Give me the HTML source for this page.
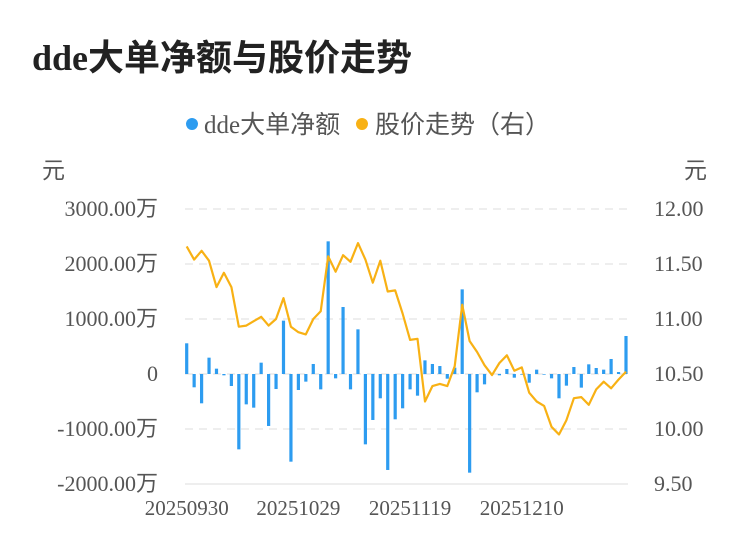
<!DOCTYPE html>
<html><head><meta charset="utf-8"><style>
body{margin:0;background:#fff;}
svg{display:block;font-family:"Liberation Serif","Noto Sans CJK SC",serif;}
</style></head><body>
<svg id="chart" width="750" height="558" viewBox="0 0 750 558" xmlns="http://www.w3.org/2000/svg">
<text x="32" y="70" font-size="36" font-weight="bold" fill="#222">dde大单净额与股价走势</text>
<g>
<g><circle cx="192" cy="124" r="6" fill="#2d9cf0"/><text x="204" y="133" font-size="25" fill="#555">dde大单净额</text></g>
<g><circle cx="362" cy="124" r="6" fill="#f8b114"/><text x="375" y="133" font-size="25" fill="#555">股价走势（右）</text></g>
</g>
<text x="42" y="178" font-size="23" fill="#555">元</text>
<text x="684" y="178" font-size="23" fill="#555">元</text>
<g id="grid"></g><g id="bars"></g><g id="line"></g><g id="axes"></g>
</svg>
<script>
const dates=["20250930","20251009","20251010","20251013","20251014","20251015","20251016","20251017","20251020","20251021","20251022","20251023","20251024","20251027","20251028","20251029","20251030","20251031","20251103","20251104","20251105","20251106","20251107","20251110","20251111","20251112","20251113","20251114","20251117","20251118","20251119","20251120","20251121","20251124","20251125","20251126","20251127","20251128","20251201","20251202","20251203","20251204","20251205","20251208","20251209","20251210","20251211","20251212","20251215","20251216","20251217","20251218","20251219","20251222","20251223","20251224","20251225","20251226","20251229","20251230"];
const ddeValues=[558,-242,-533,297,97,-24,-218,-1370,-552,-612,206,-945,-273,970,-1594,-291,-139,182,-279,2412,-79,1218,-279,812,-1279,-836,-442,-1745,-824,-624,-279,-394,248,182,145,-85,115,1539,-1794,-333,-188,0,-24,91,-67,-12,-158,79,-12,-79,-442,-212,127,-248,176,109,79,273,36,691];
const priceValues=[11.66,11.54,11.62,11.53,11.29,11.42,11.29,10.93,10.94,10.98,11.02,10.94,11.00,11.19,10.93,10.88,10.86,11.00,11.07,11.57,11.43,11.58,11.52,11.69,11.54,11.33,11.53,11.25,11.26,11.05,10.81,10.82,10.25,10.39,10.41,10.39,10.57,11.13,10.80,10.70,10.58,10.49,10.60,10.67,10.53,10.56,10.33,10.25,10.21,10.02,9.95,10.08,10.28,10.29,10.22,10.36,10.43,10.37,10.45,10.52];
const leftTicks=[3000,2000,1000,0,-1000,-2000];
const leftTickLabels=["3000.00万","2000.00万","1000.00万","0","-1000.00万","-2000.00万"];
const rightTickLabels=["12.00","11.50","11.00","10.50","10.00","9.50"];
const dateTickIdx=[0,15,30,45];

const NS="http://www.w3.org/2000/svg";
const X0=186.7,X1=626,YT=209,YB=484;
const xs=i=>X0+(X1-X0)*i/(dates.length-1);
const yL=v=>YT+(3000-v)/5000*(YB-YT);
const yR=v=>YT+(12-v)/2.5*(YB-YT);
function mk(tag,attrs,parent){const e=document.createElementNS(NS,tag);for(const k in attrs)e.setAttribute(k,attrs[k]);document.getElementById(parent).appendChild(e);return e;}
leftTicks.forEach((t,i)=>{
  const y=yL(t);
  const g=mk('line',{x1:185,x2:628,y1:y,y2:y,stroke:'#e8e8e8','stroke-width':1.5,'stroke-dasharray':i===5?'':'8,6'},'grid');
  
  
  const a=mk('text',{x:158,y:y+7,'font-size':22,fill:'#555','text-anchor':'end'},'axes');a.textContent=leftTickLabels[i];
  
  
  const b=mk('text',{x:654,y:y+7,'font-size':22,fill:'#555'},'axes');b.textContent=rightTickLabels[i];
  
  
});
dateTickIdx.forEach(i=>{const t=mk('text',{x:xs(i),y:515,'font-size':21,fill:'#555','text-anchor':'middle'},'axes');t.textContent=dates[i];
  
  });
ddeValues.forEach((v,i)=>{const y0=yL(0),y1=yL(v);
  const r=mk('rect',{x:xs(i)-1.6,y:Math.min(y0,y1),width:3.2,height:Math.max(0.5,Math.abs(y1-y0)),fill:'#2d9cf0'},'bars');
  
  });
const pts=priceValues.map((p,i)=>xs(i).toFixed(1)+','+yR(p).toFixed(1)).join(' ');
const pl=mk('polyline',{points:pts,fill:'none',stroke:'#f8b114','stroke-width':2.2,'stroke-linejoin':'round'},'line');


</script>
</body></html>
